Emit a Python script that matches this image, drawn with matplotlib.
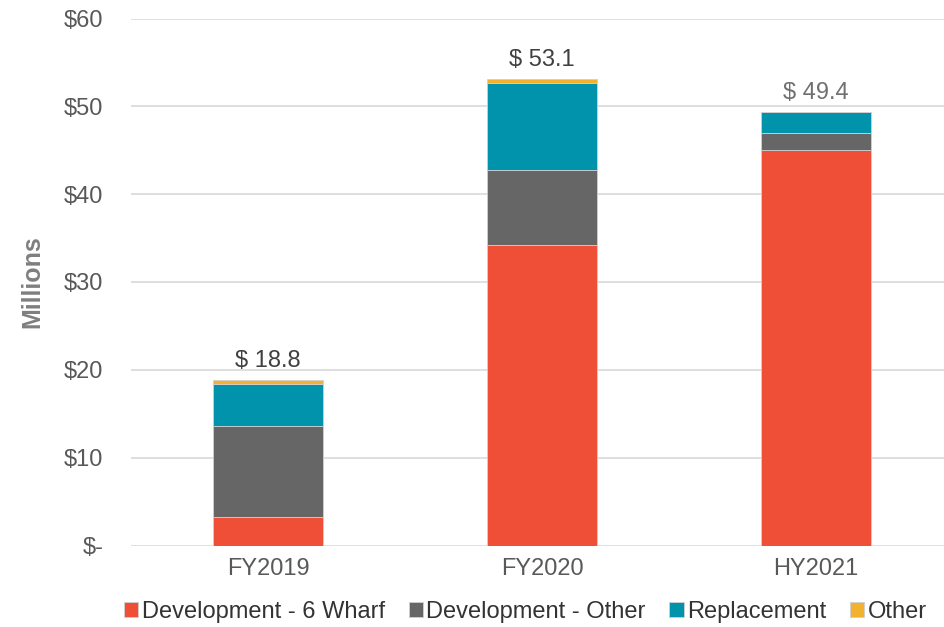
import numpy as np
import matplotlib.pyplot as plt

plt.rcParams['font.family'] = ['Liberation Sans', 'DejaVu Sans']

categories = ["FY2019", "FY2020", "HY2021"]
series_names = ["Development - 6 Wharf", "Development - Other", "Replacement", "Other"]
dev_wharf = [3.2, 34.2, 45.0]
dev_other = [10.4, 8.6, 2.0]
replacement = [4.8, 9.8, 2.4]
other = [0.4, 0.5, 0.0]
totals = [18.8, 53.1, 49.4]
total_colors = ["#404040", "#404040", "#707070"]
colors = ["#F04F37", "#666666", "#0093AB", "#F2B12F"]

fig = plt.figure(figsize=(9.45, 6.27), dpi=100)
ax = fig.add_axes([131 / 945, 81.5 / 627, 822 / 945, 527 / 627])

x = np.arange(len(categories))
bottom = np.zeros(len(categories))
for name, vals, c in zip(series_names, [dev_wharf, dev_other, replacement, other], colors):
    ax.bar(x, vals, width=0.4, bottom=bottom, color=c, label=name, zorder=3,
           edgecolor="#D0D0D0", linewidth=0.6)
    bottom += np.array(vals)

for xi, t, tc in zip(x, totals, total_colors):
    ax.text(xi, t + 0.9, f"$ {t}", ha="center", va="bottom", fontsize=17, color=tc)

ax.set_xlim(-0.5, 2.5)
ax.set_ylim(0, 60)
ax.set_yticks(range(0, 61, 10))
ax.set_yticklabels(["$-"] + [f"${v}" for v in range(10, 61, 10)])
ax.set_xticks(x)
ax.set_xticklabels(categories)
ax.tick_params(axis="both", length=0, labelsize=17, labelcolor="#595959")
ax.tick_params(axis="y", pad=20)
ax.tick_params(axis="x", pad=9)
ax.grid(axis="y", color="#D9D9D9", linewidth=1.2, zorder=0)
for s in ax.spines.values():
    s.set_visible(False)

ax.set_ylabel("Millions", fontsize=18, fontweight="bold", color="#7F7F7F", labelpad=14)

ax.legend(loc="upper center", bbox_to_anchor=(0.48, -0.079), ncol=4, frameon=False,
          fontsize=17, handlelength=0.6, handleheight=0.6, handletextpad=0.15,
          columnspacing=1.0, labelcolor="#333333", borderaxespad=0.2)

fig.savefig("out.png", dpi=100)
